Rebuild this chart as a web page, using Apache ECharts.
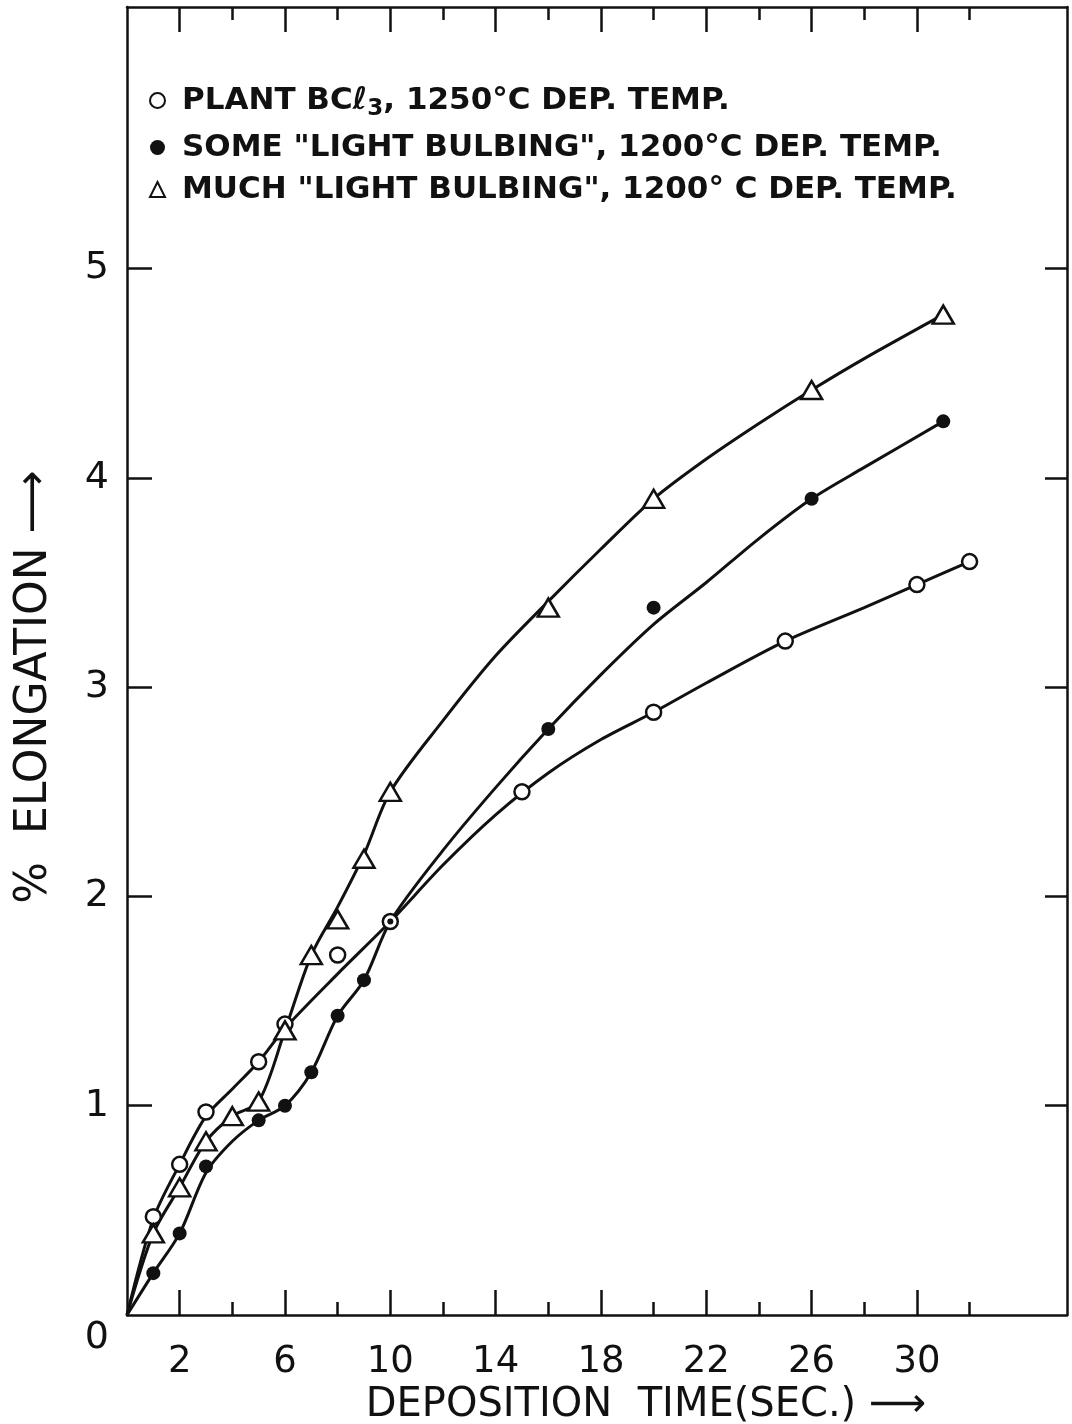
<!DOCTYPE html>
<html>
<head>
<meta charset="utf-8">
<title>% Elongation vs Deposition Time</title>
<script src="https://cdn.jsdelivr.net/npm/echarts@6/dist/echarts.min.js"></script>
<style>
  html, body { margin: 0; padding: 0; background: #fff; }
  #chart { width: 1072px; height: 1424px; }
</style>
</head>
<body>
<div id="chart"></div>
<script>
// measured points (deposition time in sec, % elongation)
const plantTimes = [1, 2, 3, 5, 6, 8, 10, 15, 20, 25, 30, 32];
const plantValues = [0.47, 0.72, 0.97, 1.21, 1.39, 1.72, 1.88, 2.50, 2.88, 3.22, 3.49, 3.60];

const someTimes = [1, 2, 3, 5, 6, 7, 8, 9, 10, 16, 20, 26, 31];
const someValues = [0.20, 0.39, 0.71, 0.93, 1.00, 1.16, 1.43, 1.60, 1.88, 2.80, 3.38, 3.90, 4.27];

const muchTimes = [1, 2, 3, 4, 5, 6, 7, 8, 9, 10, 16, 20, 26, 31];
const muchValues = [0.39, 0.61, 0.83, 0.95, 1.02, 1.36, 1.72, 1.89, 2.18, 2.50, 3.38, 3.90, 4.42, 4.78];

// hand drawn curves
const plantCurveTimes = [0, 1, 2, 3, 4, 5, 6, 8, 10, 12, 14, 16, 18, 20, 22, 25, 28, 30, 32];
const plantCurveValues = [0, 0.46, 0.72, 0.95, 1.08, 1.21, 1.37, 1.63, 1.88, 2.15, 2.39, 2.59, 2.75, 2.88, 3.02, 3.22, 3.38, 3.49, 3.60];

const someCurveTimes = [0, 1, 2, 3, 4, 5, 6, 7, 8, 9, 10, 12, 14, 16, 18, 20, 22, 24, 26, 28, 31];
const someCurveValues = [0, 0.20, 0.39, 0.68, 0.83, 0.93, 1.00, 1.16, 1.43, 1.60, 1.88, 2.22, 2.52, 2.80, 3.06, 3.30, 3.50, 3.71, 3.90, 4.05, 4.27];

const muchCurveTimes = [0, 1, 2, 3, 4, 5, 6, 7, 8, 9, 10, 12, 14, 16, 18, 20, 22, 24, 26, 28, 31];
const muchCurveValues = [0, 0.39, 0.61, 0.83, 0.95, 1.02, 1.36, 1.72, 1.95, 2.20, 2.50, 2.84, 3.15, 3.41, 3.66, 3.90, 4.09, 4.26, 4.42, 4.57, 4.78];

// ticks
const xMajorTicks = [2, 6, 10, 14, 18, 22, 26, 30];
const xMinorTicks = [4, 8, 12, 16, 20, 24, 28, 32];
const yTicks = [1, 2, 3, 4, 5];
const yLabels = [0, 1, 2, 3, 4, 5];

const seriesNames = [
  'PLANT BCℓ3, 1250°C DEP. TEMP.',
  'SOME "LIGHT BULBING", 1200°C DEP. TEMP.',
  'MUCH "LIGHT BULBING", 1200° C DEP. TEMP.'
];

const FONT = "'DejaVu Sans', 'Liberation Sans', sans-serif";
const INK = '#111';

const zip = (xs, ys) => xs.map((x, i) => [x, ys[i]]);

// 4 x axes: major/minor ticks on bottom and top (onZero off so each stays on its own side)
const xBase = { type: 'value', min: 0, max: 35.7, splitLine: { show: false } };
const lineOn = { show: true, onZero: false, lineStyle: { color: INK, width: 2.5 } };
const lineOff = { show: false, onZero: false };

const xAxes = [
  Object.assign({}, xBase, {
    position: 'bottom',
    axisLine: lineOn,
    axisTick: { show: true, inside: true, length: 25, customValues: xMajorTicks, lineStyle: { color: INK, width: 2.5 } },
    axisLabel: { customValues: xMajorTicks, margin: 29, fontSize: 37, color: INK, fontFamily: FONT },
    name: 'DEPOSITION  TIME(SEC.) ⟶',
    nameLocation: 'middle',
    nameGap: 60,
    nameTextStyle: { fontSize: 40, color: INK, fontFamily: FONT, padding: [0, 0, 0, 98] }
  }),
  Object.assign({}, xBase, {
    position: 'bottom',
    axisLine: lineOff,
    axisTick: { show: true, inside: true, length: 13, customValues: xMinorTicks, lineStyle: { color: INK, width: 2.5 } },
    axisLabel: { show: false }
  }),
  Object.assign({}, xBase, {
    position: 'top',
    axisLine: lineOn,
    axisTick: { show: true, inside: true, length: 25, customValues: xMajorTicks, lineStyle: { color: INK, width: 2.5 } },
    axisLabel: { show: false }
  }),
  Object.assign({}, xBase, {
    position: 'top',
    axisLine: lineOff,
    axisTick: { show: true, inside: true, length: 13, customValues: xMinorTicks, lineStyle: { color: INK, width: 2.5 } },
    axisLabel: { show: false }
  })
];

const yBase = { type: 'value', min: 0, max: 6.25, splitLine: { show: false } };

const yAxes = [
  Object.assign({}, yBase, {
    position: 'left',
    axisLine: lineOn,
    axisTick: { show: true, inside: true, length: 25, customValues: yTicks, lineStyle: { color: INK, width: 2.5 } },
    axisLabel: {
      customValues: yLabels,
      margin: 18,
      fontSize: 38,
      color: INK,
      fontFamily: FONT,
      formatter: (v) => (v === 0 ? '{z|0}' : String(v)),
      rich: { z: { fontSize: 38, color: INK, fontFamily: FONT, padding: [46, 0, 0, 0] } }
    },
    name: '%  ELONGATION ⟶',
    nameLocation: 'middle',
    nameGap: 70,
    nameRotate: 90,
    nameTextStyle: { fontSize: 44, color: INK, fontFamily: FONT, padding: [0, 52, 0, 0] }
  }),
  Object.assign({}, yBase, {
    position: 'right',
    axisLine: lineOn,
    axisTick: { show: true, inside: true, length: 22, customValues: yTicks, lineStyle: { color: INK, width: 2.5 } },
    axisLabel: { show: false }
  })
];

function curve(xs, ys) {
  return {
    type: 'line',
    data: zip(xs, ys),
    smooth: 0.3,
    showSymbol: false,
    symbol: 'none',
    silent: true,
    lineStyle: { color: INK, width: 3 },
    z: 2
  };
}

const someMarks = zip(someTimes, someValues).map((p) =>
  p[0] === 10 ? { value: p, symbolSize: 6 } : p
);

const option = {
  backgroundColor: '#fff',
  animation: false,
  textStyle: { fontFamily: FONT },
  grid: { left: 127, right: 5, top: 7, bottom: 109, containLabel: false, outerBoundsMode: 'none' },
  legend: {
    orient: 'vertical',
    left: 144,
    top: 80,
    itemGap: 11,
    itemWidth: 15,
    itemHeight: 15,
    selectedMode: false,
    data: [
      { name: seriesNames[0], icon: 'circle' },
      { name: seriesNames[1], icon: 'circle' },
      { name: seriesNames[2], icon: 'triangle' }
    ],
    formatter: (name) => name.replace('ℓ3', 'ℓ{sub|3}'),
    textStyle: {
      fontSize: 31,
      fontWeight: 'bold',
      color: INK,
      fontFamily: FONT,
      padding: [0, 0, 0, 12],
      rich: { sub: { fontSize: 23, fontWeight: 'bold', color: INK, fontFamily: FONT, padding: [18, 0, 0, 0] } }
    }
  },
  xAxis: xAxes,
  yAxis: yAxes,
  series: [
    curve(plantCurveTimes, plantCurveValues),
    curve(someCurveTimes, someCurveValues),
    curve(muchCurveTimes, muchCurveValues),
    {
      name: seriesNames[0],
      type: 'scatter',
      data: zip(plantTimes, plantValues),
      symbol: 'circle',
      symbolSize: 15,
      itemStyle: { color: '#fff', borderColor: INK, borderWidth: 2.5, opacity: 1 },
      z: 3
    },
    {
      name: seriesNames[1],
      type: 'scatter',
      data: someMarks,
      symbol: 'circle',
      symbolSize: 14,
      itemStyle: { color: INK, borderColor: INK, borderWidth: 0, opacity: 1 },
      z: 4
    },
    {
      name: seriesNames[2],
      type: 'scatter',
      data: zip(muchTimes, muchValues),
      symbol: 'triangle',
      symbolSize: [21, 18],
      itemStyle: { color: '#fff', borderColor: INK, borderWidth: 2.5, opacity: 1 },
      z: 3
    }
  ]
};

const chart = echarts.init(document.getElementById('chart'), null, { renderer: 'canvas' });
chart.setOption(option);
</script>
</body>
</html>
